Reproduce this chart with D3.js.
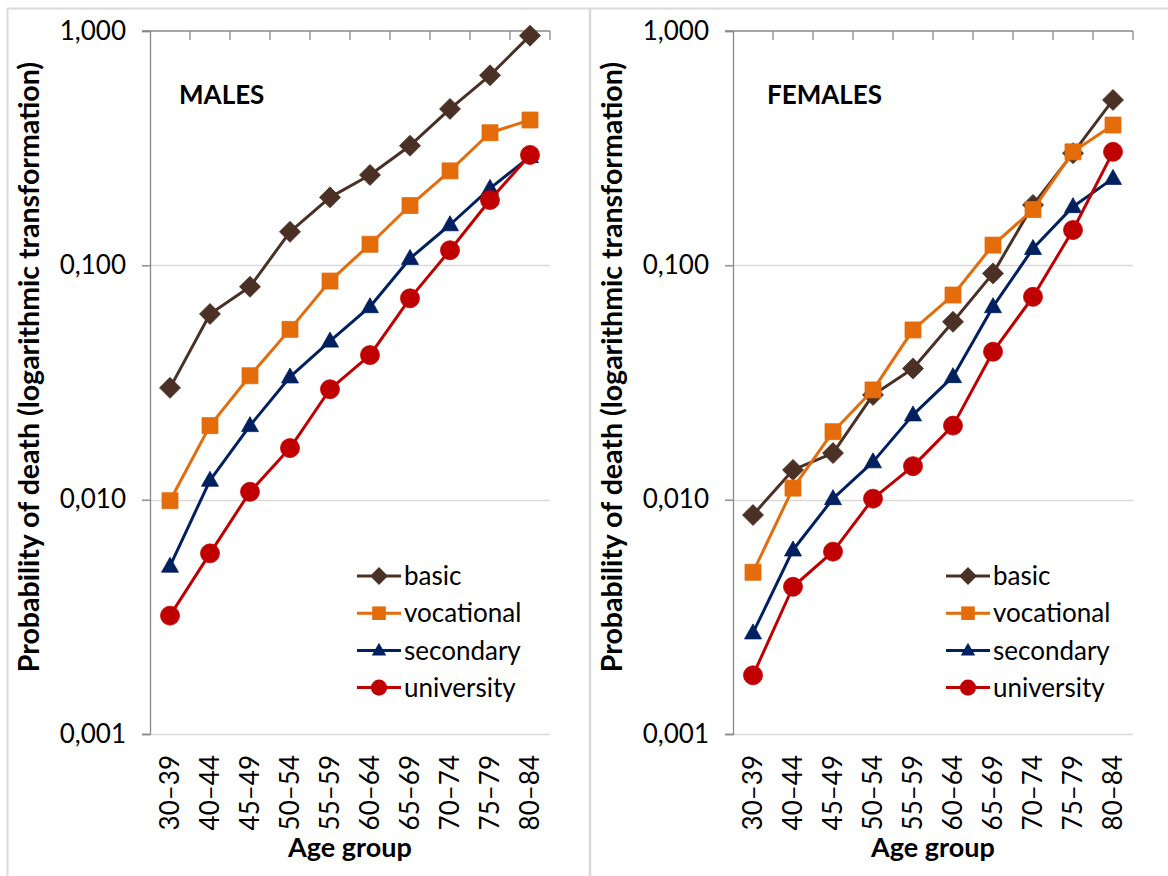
<!DOCTYPE html>
<html>
<head>
<meta charset="utf-8">
<script src="https://cdn.jsdelivr.net/npm/d3@7"></script>
<style>
  body { margin: 0; background: #fff; }
  .axisText { font-family: Lato, "Open Sans", sans-serif; fill: #000; }
</style>
</head>
<body>
<div class="chart"></div>
<script>
// Data
var ageGroups = ["30–39", "40–44", "45–49", "50–54", "55–59", "60–64", "65–69", "70–74", "75–79", "80–84"];
var seriesNames = ["basic", "vocational", "secondary", "university"];
var yTickValues = [1, 0.1, 0.01, 0.001];

var malesBasic = [0.030, 0.062, 0.081, 0.139, 0.195, 0.243, 0.324, 0.465, 0.647, 0.955];
var malesVocational = [0.0099, 0.0207, 0.0338, 0.0533, 0.0857, 0.123, 0.180, 0.253, 0.368, 0.417];
var malesSecondary = [0.0052, 0.0121, 0.0207, 0.0334, 0.0475, 0.0666, 0.107, 0.149, 0.213, 0.291];
var malesUniversity = [0.0032, 0.0059, 0.0108, 0.0166, 0.0296, 0.0414, 0.0723, 0.116, 0.190, 0.296];

var femalesBasic = [0.0086, 0.0134, 0.0158, 0.0280, 0.0363, 0.0574, 0.0924, 0.181, 0.301, 0.508];
var femalesVocational = [0.0049, 0.0112, 0.0195, 0.0294, 0.0530, 0.0747, 0.122, 0.173, 0.305, 0.397];
var femalesSecondary = [0.0027, 0.0061, 0.0101, 0.0145, 0.0230, 0.0335, 0.0666, 0.118, 0.178, 0.235];
var femalesUniversity = [0.00178, 0.00425, 0.0060, 0.0101, 0.0139, 0.0207, 0.0428, 0.0734, 0.1415, 0.305];

var colors = ["#4b3026", "#e46c0a", "#002060", "#c00000"];
var shapes = ["diamond", "square", "triangle", "circle"];

var svgWidth = 1168;
var svgHeight = 876;

var svg = d3.select(".chart")
  .append("svg")
  .attr("width", svgWidth)
  .attr("height", svgHeight);

// outer frame of the two chart boxes
svg.append("line").attr("x1", 7).attr("x2", svgWidth).attr("y1", 8.5).attr("y2", 8.5)
  .attr("stroke", "#d9d9d9").attr("stroke-width", 2);
svg.append("line").attr("x1", 7.5).attr("x2", 7.5).attr("y1", 8).attr("y2", svgHeight)
  .attr("stroke", "#d9d9d9").attr("stroke-width", 2);
svg.append("line").attr("x1", 590).attr("x2", 590).attr("y1", 8).attr("y2", svgHeight)
  .attr("stroke", "#d9d9d9").attr("stroke-width", 2.5);

function markerPath(shape, k) {
  if (shape == "diamond") {
    var h = 10.5 * k;
    return `M0,${-h}L${h},0L0,${h}L${-h},0Z`;
  }
  if (shape == "square") {
    var s = 8 * k;
    return `M${-s},${-s}H${s}V${s}H${-s}Z`;
  }
  if (shape == "triangle") {
    var w = 8.5 * k;
    return `M0,${-9 * k}L${w},${6 * k}L${-w},${6 * k}Z`;
  }
  var r = 9.5 * k;
  return `M${r},0A${r},${r} 0 1,1 ${-r},0A${r},${r} 0 1,1 ${r},0Z`;
}

function drawPanel(opts) {
  var x0 = opts.left, x1 = opts.left + 400;
  var yTop = 31, yBottom = 734;

  var g = svg.append("g");

  // Step 1: scales
  var xScale = d3.scaleBand()
    .domain(ageGroups)
    .range([x0, x1]);

  var yScale = d3.scaleLog()
    .domain([0.001, 1])
    .range([yBottom, yTop]);

  // Step 2: gridlines
  g.selectAll(".grid")
    .data(yTickValues.slice(1))
    .enter()
    .append("line")
    .attr("x1", x0 - 8)
    .attr("x2", x1)
    .attr("y1", d => Math.round(yScale(d)) + 0.5)
    .attr("y2", d => Math.round(yScale(d)) + 0.5)
    .attr("stroke", "#d9d9d9")
    .attr("stroke-width", 1.3);

  // Step 3: left axis
  var leftAxis = d3.axisLeft(yScale)
    .tickValues(yTickValues)
    .tickSize(8)
    .tickPadding(16)
    .tickFormat(d => d3.format(".3f")(d).replace(".", ","));

  var yAxisG = g.append("g")
    .attr("transform", `translate(${x0}, 0)`)
    .call(leftAxis);
  yAxisG.selectAll("path, line").attr("stroke", "#898989").attr("stroke-width", 1.3);
  yAxisG.selectAll("text")
    .attr("class", "axisText")
    .style("font-size", "26px");

  // top category axis, ticks on band boundaries pointing down
  g.append("line")
    .attr("x1", x0 - 8).attr("x2", x1)
    .attr("y1", yTop).attr("y2", yTop)
    .attr("stroke", "#898989").attr("stroke-width", 1.3);
  g.selectAll(".catTick")
    .data(ageGroups)
    .enter()
    .append("line")
    .attr("x1", d => xScale(d) + xScale.bandwidth())
    .attr("x2", d => xScale(d) + xScale.bandwidth())
    .attr("y1", yTop)
    .attr("y2", yTop + 9)
    .attr("stroke", "#898989")
    .attr("stroke-width", 1.3);

  // category labels at the bottom
  var bottomAxis = d3.axisBottom(xScale).tickSize(0);
  var xAxisG = g.append("g")
    .attr("transform", `translate(0, ${yBottom})`)
    .call(bottomAxis);
  xAxisG.select(".domain").remove();
  xAxisG.selectAll("text")
    .attr("class", "axisText")
    .style("font-size", "26px")
    .attr("text-anchor", "end")
    .attr("transform", "translate(0, 21) rotate(-90)")
    .attr("x", 0)
    .attr("y", 0)
    .attr("dy", "0.35em");

  // Step 4: axis titles
  g.append("text")
    .attr("class", "axisText")
    .attr("transform", `translate(${opts.left - 121}, 367) rotate(-90)`)
    .attr("text-anchor", "middle")
    .attr("dy", "0.35em")
    .style("font-size", "28.5px")
    .style("font-weight", "bold")
    .text("Probability of death (logarithmic transformation)");

  g.append("text")
    .attr("class", "axisText")
    .attr("x", (x0 + x1) / 2)
    .attr("y", 857)
    .attr("text-anchor", "middle")
    .style("font-size", "27px")
    .style("font-weight", "bold")
    .text("Age group");

  g.append("text")
    .attr("class", "axisText")
    .attr("x", opts.titleX)
    .attr("y", 104)
    .style("font-size", "26px")
    .style("font-weight", "bold")
    .text(opts.title);

  // Step 5: lines and markers
  var line = d3.line()
    .x((d, i) => xScale(ageGroups[i]) + xScale.bandwidth() / 2)
    .y(d => yScale(d));

  opts.series.forEach(function (values, s) {
    g.append("path")
      .attr("d", line(values))
      .attr("fill", "none")
      .attr("stroke", colors[s])
      .attr("stroke-width", 3)
      .attr("stroke-linejoin", "round");

    g.selectAll(".m" + s)
      .data(values)
      .enter()
      .append("path")
      .attr("transform", (d, i) => `translate(${xScale(ageGroups[i]) + xScale.bandwidth() / 2}, ${yScale(d)})`)
      .attr("d", markerPath(shapes[s], 1))
      .attr("fill", colors[s])
      .attr("stroke", colors[s])
      .attr("stroke-width", 0.8);
  });

  // Step 6: legend
  var legend = g.selectAll(".legend")
    .data(seriesNames)
    .enter()
    .append("g")
    .attr("transform", (d, i) => `translate(${opts.legendX}, ${576 + i * 37.2})`);

  legend.append("line")
    .attr("x1", 0).attr("x2", 44)
    .attr("stroke", (d, i) => colors[i])
    .attr("stroke-width", 3);
  legend.append("path")
    .attr("transform", "translate(22, 0)")
    .attr("d", (d, i) => markerPath(shapes[i], 0.85))
    .attr("fill", (d, i) => colors[i]);
  legend.append("text")
    .attr("class", "axisText")
    .attr("x", 47)
    .attr("dy", "0.35em")
    .style("font-size", "26px")
    .text(d => d);
}

drawPanel({
  left: 150,
  title: "MALES",
  titleX: 179,
  legendX: 357,
  series: [malesBasic, malesVocational, malesSecondary, malesUniversity]
});

drawPanel({
  left: 733,
  title: "FEMALES",
  titleX: 767,
  legendX: 946,
  series: [femalesBasic, femalesVocational, femalesSecondary, femalesUniversity]
});
</script>
</body>
</html>
